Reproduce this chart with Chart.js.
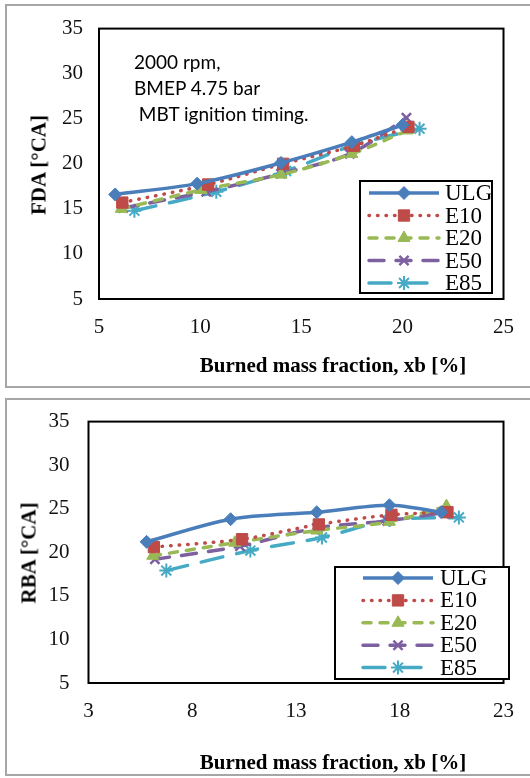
<!DOCTYPE html>
<html>
<head>
<meta charset="utf-8">
<script src="https://cdn.jsdelivr.net/npm/chart.js@4.4.1/dist/chart.umd.min.js"></script>
<style>
  body { margin: 0; width: 530px; height: 778px; overflow: hidden; background: #fff; position: relative; }
  .frame { position: absolute; left: 5px; width: 545px; border: 2px solid #a6a6a6; box-sizing: border-box; }
  canvas { position: absolute; left: 0; }
  .ytitle, .xtitle { position: absolute; font: bold 21px 'Liberation Serif', serif; white-space: nowrap; color: #000; }
  .ytitle { transform: translate(-50%, -50%) rotate(-90deg); }
  .xtitle { transform: translate(-50%, -50%); }
  .note { position: absolute; left: 134px; top: 49px; font: 19px Lato, sans-serif; line-height: 26px; color: #000; white-space: pre; }
</style>
</head>
<body>
<div class="frame" style="top:4px;height:384px"></div>
<div class="frame" style="top:398px;height:378px"></div>

<canvas id="fda" width="530" height="390" style="top:0"></canvas>
<canvas id="rba" width="530" height="388" style="top:390px"></canvas>

<div class="note">2000 rpm,
BMEP 4.75 bar
 MBT ignition timing.</div>
<div class="ytitle" style="left:39px;top:165px">FDA [°CA]</div>
<div class="xtitle" style="left:333px;top:365px">Burned mass fraction, xb [%]</div>
<div class="ytitle" style="left:29px;top:553px">RBA [°CA]</div>
<div class="xtitle" style="left:333px;top:762px">Burned mass fraction, xb [%]</div>

<script>
// burned mass fraction points per fuel (same for both plots)
const fuels = ['ULG', 'E10', 'E20', 'E50', 'E85'];
const xbULG = [5.8, 9.85, 14.0, 17.5, 20.0];
const xbE10 = [6.15, 10.4, 14.1, 17.6, 20.3];
const xbE20 = [6.1, 10.05, 14.0, 17.5, 20.25];
const xbE50 = [6.2, 10.3, 14.0, 17.4, 20.2];
const xbE85 = [6.75, 10.8, 14.25, 17.5, 20.85];

// flame development angle
const fdaULG = [16.6, 17.8, 20.1, 22.4, 24.3];
const fdaE10 = [15.7, 17.7, 20.0, 22.0, 24.1];
const fdaE20 = [15.0, 17.1, 18.8, 21.1, 23.7];
const fdaE50 = [15.1, 16.9, 18.9, 21.1, 25.1];
const fdaE85 = [14.8, 16.9, 19.2, 22.0, 23.9];

// rapid burning angle
const rbaULG = [21.2, 23.8, 24.6, 25.4, 24.6];
const rbaE10 = [20.6, 21.5, 23.2, 24.3, 24.6];
const rbaE20 = [19.6, 21.1, 22.5, 23.5, 25.3];
const rbaE50 = [19.2, 20.7, 22.8, 23.6, 24.6];
const rbaE85 = [17.9, 20.2, 21.7, 23.7, 24.0];

const yTicks = [5, 35, 5];
const fdaXTicks = [5, 25, 5];
const rbaXTicks = [3, 23, 5];

const xbAll = [xbULG, xbE10, xbE20, xbE50, xbE85];

const styles = [
  { color: '#4a7ebb', dash: [], cap: 'butt', point: 'rectRot', r: 6.5, pw: 1 },
  { color: '#be4b48', dash: [0.5, 8], cap: 'round', point: 'rect', r: 8, pw: 1 },
  { color: '#98b954', dash: [8, 9], cap: 'round', point: 'triangle', r: 7, pw: 1 },
  { color: '#7d60a0', dash: [15, 12], cap: 'round', point: 'crossRot', r: 6.5, pw: 2.5 },
  { color: '#46aac5', dash: [22, 14], cap: 'round', point: 'star', r: 7, pw: 2 }
];

function buildSets(series) {
  return series.map((ys, i) => {
    const s = styles[i];
    return {
      label: fuels[i],
      data: ys.map((y, j) => ({ x: xbAll[i][j], y: y })),
      borderColor: s.color,
      backgroundColor: s.color,
      borderWidth: 3.5,
      borderDash: s.dash,
      borderCapStyle: s.cap,
      tension: 0.3,
      pointStyle: s.point,
      pointRadius: s.r,
      pointBorderWidth: s.pw,
      pointBackgroundColor: s.color,
      pointBorderColor: s.color
    };
  });
}

// plot frame + legend box with line samples
const boxAndLegend = {
  id: 'boxAndLegend',
  afterDatasetsDraw(chart, args, o) {
    const ctx = chart.ctx, a = chart.chartArea;
    ctx.save();
    ctx.strokeStyle = '#000';
    ctx.lineWidth = 2;
    ctx.strokeRect(a.left, a.top, a.right - a.left, a.bottom - a.top);

    ctx.fillStyle = '#fff';
    ctx.fillRect(o.x, o.y, o.w, o.h);
    ctx.strokeRect(o.x, o.y, o.w, o.h);

    chart.data.datasets.forEach((ds, i) => {
      const y = o.row0 + i * o.gap;
      ctx.strokeStyle = ds.borderColor;
      ctx.lineWidth = ds.borderWidth;
      ctx.lineCap = ds.borderCapStyle;
      ctx.setLineDash(ds.borderDash);
      ctx.beginPath();
      ctx.moveTo(o.line0, y);
      ctx.lineTo(o.line1, y);
      ctx.stroke();
      ctx.setLineDash([]);
      ctx.lineCap = 'butt';
      ctx.fillStyle = ds.pointBackgroundColor;
      ctx.lineWidth = ds.pointBorderWidth;
      Chart.helpers.drawPoint(ctx, { pointStyle: ds.pointStyle, radius: ds.pointRadius, borderWidth: ds.pointBorderWidth, rotation: 0 }, o.mark, y);
      ctx.fillStyle = '#000';
      ctx.font = "23px 'Liberation Serif'";
      ctx.textBaseline = 'middle';
      ctx.fillText(ds.label, o.text, y + 1);
    });
    ctx.restore();
  }
};

function makeChart(id, series, xt, lay, legendBox) {
  const tickFont = { family: 'Liberation Serif', size: 21 };
  return new Chart(document.getElementById(id), {
    type: 'line',
    data: { datasets: buildSets(series) },
    plugins: [boxAndLegend],
    options: {
      responsive: false,
      animation: false,
      layout: { padding: { left: 0, right: 22, top: lay.top, bottom: 0 } },
      plugins: { legend: { display: false }, tooltip: { enabled: false }, boxAndLegend: legendBox },
      scales: {
        x: {
          type: 'linear', min: xt[0], max: xt[1],
          ticks: { stepSize: xt[2], padding: lay.xpad, color: '#111', font: tickFont },
          grid: { display: false, drawTicks: false },
          border: { display: false },
          afterFit(s) { s.height = lay.xh; }
        },
        y: {
          min: yTicks[0], max: yTicks[1],
          ticks: { stepSize: yTicks[2], padding: lay.ypad, color: '#111', font: tickFont },
          grid: { display: false, drawTicks: false },
          border: { display: false },
          afterFit(s) { s.width = lay.yw; }
        }
      }
    }
  });
}

makeChart('fda', [fdaULG, fdaE10, fdaE20, fdaE50, fdaE85], fdaXTicks,
  { top: 25, xh: 91, yw: 99, xpad: 16, ypad: 16 },
  { x: 360, y: 181, w: 132, h: 112, row0: 193, gap: 22.5, line0: 369, line1: 439, mark: 404, text: 445 });

makeChart('rba', [rbaULG, rbaE10, rbaE20, rbaE50, rbaE85], rbaXTicks,
  { top: 31, xh: 95, yw: 88.5, xpad: 16, ypad: 19 },
  { x: 335, y: 177, w: 174, h: 112, row0: 188, gap: 22.4, line0: 363, line1: 433, mark: 398, text: 440 });
</script>
</body>
</html>
